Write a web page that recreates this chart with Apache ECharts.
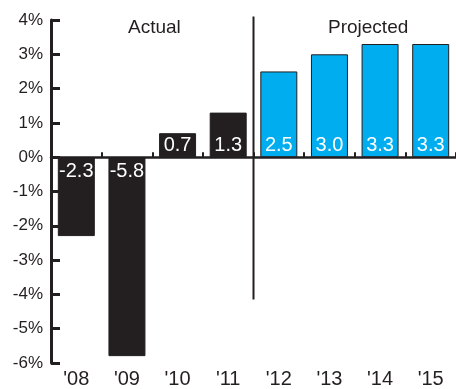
<!DOCTYPE html>
<html>
<head>
<meta charset="utf-8">
<script src="https://cdn.jsdelivr.net/npm/echarts@6/dist/echarts.min.js"></script>
<style>
  html, body { margin: 0; padding: 0; background: #fff; }
  #chart { width: 456px; height: 389px; }
</style>
</head>
<body>
<div id="chart"></div>
<script>
// Annual growth, actual through '11, projected from '12
const years = ["'08", "'09", "'10", "'11", "'12", "'13", "'14", "'15"];
const growth = [-2.3, -5.8, 0.7, 1.3, 2.5, 3.0, 3.3, 3.3];
const projected = [false, false, false, false, true, true, true, true];
const yTicks = { min: -6, max: 4, step: 1 };
// divider between actual and projected years (category boundary index, y span)
const dividerAt = 4;
const dividerSpan = [4.1, -4.15];

const ink = '#231f20';
const blue = '#00aeef';
const font = '"Liberation Sans", Arial, sans-serif';

const barData = growth.map((v, i) => ({
  value: v,
  itemStyle: {
    color: projected[i] ? blue : ink,
    borderColor: ink,
    borderWidth: 1
  },
  label: {
    position: v >= 0 ? 'insideBottom' : 'insideTop',
    distance: v >= 0 ? 2 : 4
  }
}));

const chart = echarts.init(document.getElementById('chart'), null, { renderer: 'canvas' });
chart.setOption({
  animation: false,
  backgroundColor: '#fff',
  grid: { left: 51, right: -6, top: 20, bottom: 26, containLabel: false },
  xAxis: [
    {
      type: 'category',
      data: years,
      axisLine: { onZero: true, lineStyle: { color: ink, width: 2.5 } },
      axisTick: { show: true, inside: true, length: 5, lineStyle: { color: ink, width: 2 } },
      axisLabel: { show: false },
      splitLine: { show: false }
    },
    {
      type: 'category',
      data: years,
      position: 'bottom',
      axisLine: { show: false, onZero: false },
      axisTick: { show: false },
      axisLabel: { show: true, color: ink, fontSize: 20, fontFamily: font, margin: 6 },
      splitLine: { show: false }
    },
    {
      type: 'value',
      min: 0,
      max: years.length,
      show: false
    }
  ],
  yAxis: {
    type: 'value',
    min: yTicks.min,
    max: yTicks.max,
    interval: yTicks.step,
    axisLine: { show: true, lineStyle: { color: ink, width: 3 } },
    axisTick: { show: true, inside: true, length: 9, lineStyle: { color: ink, width: 3 } },
    axisLabel: { formatter: '{value}%', color: ink, fontSize: 17, fontFamily: font, margin: 8 },
    splitLine: { show: false }
  },
  series: [
    {
      type: 'bar',
      xAxisIndex: 0,
      barWidth: 37,
      data: barData,
      label: {
        show: true,
        color: '#fff',
        fontSize: 20,
        fontFamily: font,
        formatter: p => p.value.toFixed(1)
      },
      z: 3
    },
    {
      type: 'line',
      xAxisIndex: 2,
      data: [[dividerAt, dividerSpan[0]], [dividerAt, dividerSpan[1]]],
      showSymbol: false,
      symbol: 'none',
      clip: false,
      silent: true,
      lineStyle: { color: ink, width: 2 },
      z: 4
    }
  ],
  graphic: [
    { type: 'text', left: 128, top: 18, style: { text: 'Actual', fill: ink, font: '19px ' + font } },
    { type: 'text', left: 328, top: 18, style: { text: 'Projected', fill: ink, font: '19px ' + font } }
  ]
});
</script>
</body>
</html>
